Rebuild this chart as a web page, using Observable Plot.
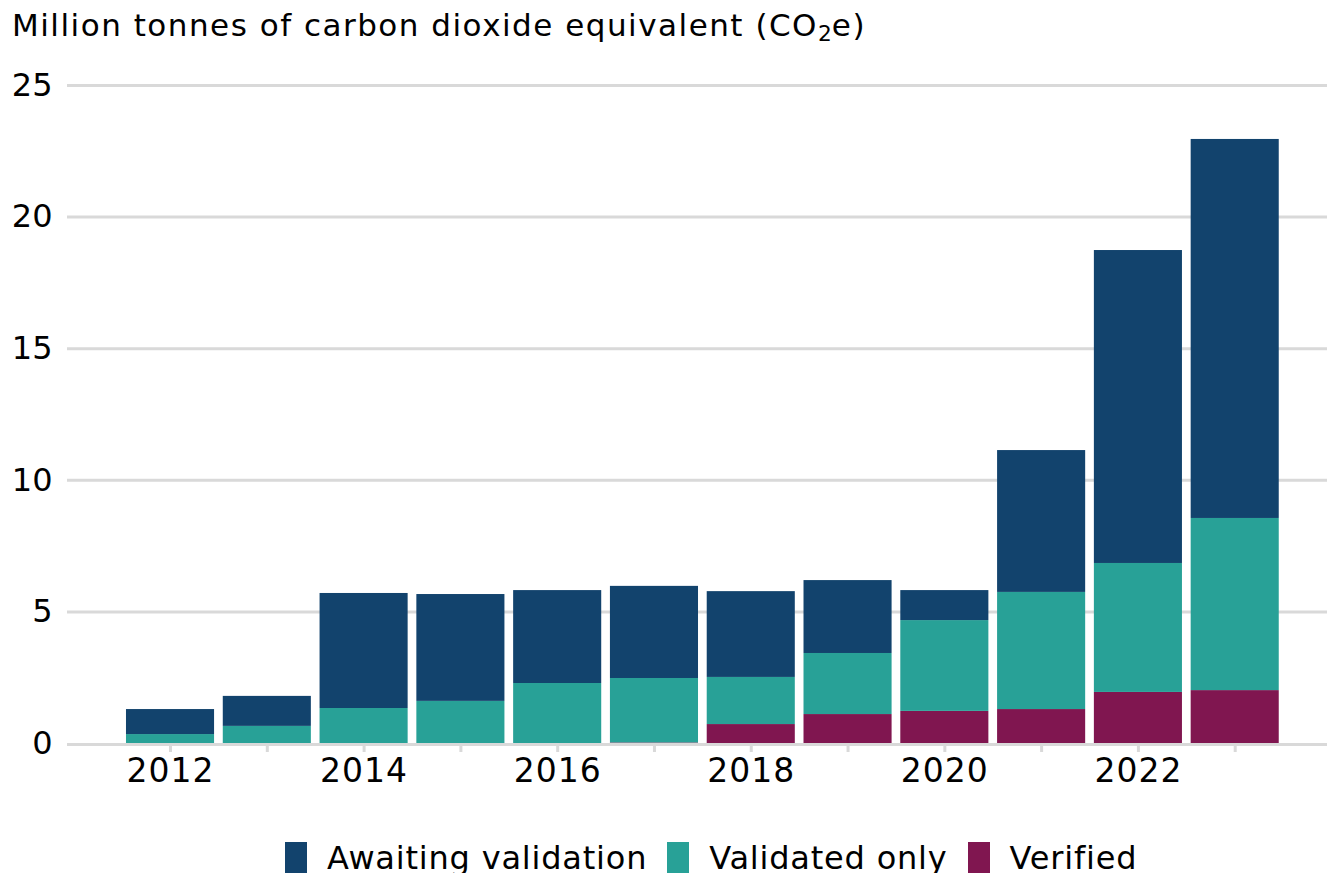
<!DOCTYPE html>
<html>
<head>
<meta charset="utf-8">
<script src="https://cdn.jsdelivr.net/npm/d3@7"></script>
<script src="https://cdn.jsdelivr.net/npm/@observablehq/plot@0.6"></script>
<style>
  html, body { margin: 0; padding: 0; background: #fff; overflow: hidden; width: 1327px; height: 873px; }
  body { font-family: "DejaVu Sans", Verdana, sans-serif; color: #0b0c0c; position: relative; }
  #title { position: absolute; left: 12px; top: 7px; font-size: 31px; letter-spacing: 1.5px; white-space: nowrap; color: #000; }
  #title sub { font-size: 0.7em; vertical-align: -0.25em; line-height: 0; letter-spacing: 0; }
  #chart { position: absolute; left: 0; top: 60px; }
  #legend { position: absolute; left: 285px; top: 842px; display: flex; align-items: flex-start; font-size: 32px; letter-spacing: 0.8px; white-space: nowrap; color: #000; }
  .item { display: flex; align-items: flex-start; margin-right: 20px; }
  .sw { width: 22px; height: 34px; margin-right: 20px; }
  .lab { line-height: 1; margin-top: 0px; }
  .xax text { letter-spacing: 1px; }
</style>
</head>
<body>
<div id="title">Million tonnes of carbon dioxide equivalent (CO<sub>2</sub>e)</div>
<div id="chart"></div>
<div id="legend"></div>
<script>
const years = [2012, 2013, 2014, 2015, 2016, 2017, 2018, 2019, 2020, 2021, 2022, 2023];
const verified      = [0, 0, 0, 0, 0, 0.02, 0.72, 1.10, 1.22, 1.29, 1.94, 2.01];
const validatedOnly = [0.34, 0.65, 1.33, 1.60, 2.28, 2.45, 1.79, 2.32, 3.45, 4.45, 4.90, 6.54];
const awaiting      = [0.95, 1.14, 4.37, 4.06, 3.53, 3.50, 3.26, 2.77, 1.14, 5.39, 11.89, 14.40];
const seriesNames = ["Awaiting validation", "Validated only", "Verified"];
const seriesColors = ["#12436D", "#28A197", "#801650"];
const yTicks = [0, 5, 10, 15, 20, 25];

const rows = [];
years.forEach((yr, i) => {
  rows.push({year: yr, series: "Verified", value: verified[i]});
  rows.push({year: yr, series: "Validated only", value: validatedOnly[i]});
  rows.push({year: yr, series: "Awaiting validation", value: awaiting[i]});
});

const grid = "#d9d9d9";
const chart = Plot.plot({
  width: 1327,
  height: 743,
  marginLeft: 67,
  marginRight: 0,
  marginTop: 25,
  marginBottom: 60,
  style: {fontFamily: '"DejaVu Sans", Verdana, sans-serif', background: "white"},
  x: {type: "band", domain: years, paddingInner: 0.09, paddingOuter: 0.554, align: 0.55, round: false},
  y: {domain: [0, 25]},
  color: {domain: seriesNames, range: seriesColors},
  marks: [
    Plot.ruleY(yTicks.filter(d => d > 0), {stroke: grid, strokeWidth: 3}),
    Plot.barY(rows, {x: "year", y: "value", fill: "series", order: ["Verified", "Validated only", "Awaiting validation"]}),
    Plot.ruleY([0], {stroke: grid, strokeWidth: 3, dy: 1}),
    Plot.axisY({ticks: yTicks, tickSize: 0, tickPadding: 15, fontSize: 32, fill: "#000", label: null}),
    Plot.axisX({ticks: years, tickSize: 9, tickPadding: 6, fontSize: 33, stroke: grid, strokeWidth: 3, fill: "#000", label: null,
      className: "xax", tickFormat: d => d % 2 === 0 ? String(d) : ""})
  ]
});
document.getElementById("chart").appendChild(chart);

const leg = document.getElementById("legend");
seriesNames.forEach((n, i) => {
  const it = document.createElement("div");
  it.className = "item";
  it.innerHTML = `<div class="sw" style="background:${seriesColors[i]}"></div><div class="lab">${n}</div>`;
  leg.appendChild(it);
});
</script>
</body>
</html>
